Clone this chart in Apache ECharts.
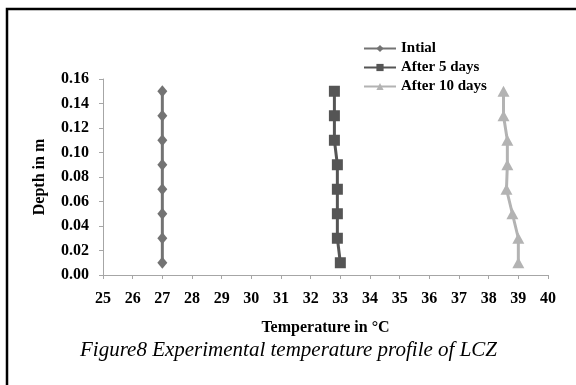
<!DOCTYPE html>
<html>
<head>
<meta charset="utf-8">
<script src="https://cdn.jsdelivr.net/npm/echarts@6/dist/echarts.min.js"></script>
<style>
html,body{margin:0;padding:0;background:#fff;}
#c{width:576px;height:385px;}
</style>
</head>
<body>
<div id="c"></div>
<script>
var depths = [0.01, 0.03, 0.05, 0.07, 0.09, 0.11, 0.13, 0.15];
var initial = [27, 27, 27, 27, 27, 27, 27, 27];
var after5 = [33.0, 32.9, 32.9, 32.9, 32.9, 32.8, 32.8, 32.8];
var after10 = [39.0, 39.0, 38.8, 38.6, 38.63, 38.63, 38.5, 38.5];
var seriesNames = ['Intial', 'After 5 days', 'After 10 days'];
var xTicks = {min: 25, max: 40, interval: 1};
var yTicks = {min: 0, max: 0.16, interval: 0.02};
var xTitle = 'Temperature in \u00B0C';
var yTitle = 'Depth in m';
var caption = 'Figure8 Experimental temperature profile of LCZ';

function pairs(vals){ return vals.map(function(v,i){ return [v, depths[i]]; }); }

var serif = '"Liberation Serif", "Times New Roman", serif';
var axisColor = '#a6a6a6';

var chart = echarts.init(document.getElementById('c'), null, {renderer:'canvas'});
chart.setOption({
  animation: false,
  backgroundColor: '#fff',
  grid: {left: 103, right: 28, top: 79, bottom: 110, containLabel: false},
  legend: {
    orient: 'vertical', left: 358, top: 36, itemGap: 4,
    itemWidth: 32, itemHeight: 9,
    textStyle: {fontFamily: serif, fontWeight: 'bold', fontSize: 15, color: '#000'},
    data: seriesNames
  },
  xAxis: {
    type: 'value', min: xTicks.min, max: xTicks.max, interval: xTicks.interval,
    name: xTitle, nameLocation: 'middle', nameGap: 45,
    nameTextStyle: {fontFamily: serif, fontWeight: 'bold', fontSize: 16, color: '#000'},
    axisLine: {show: true, lineStyle: {color: axisColor, width: 1}},
    axisTick: {show: true, inside: false, length: 4, lineStyle: {color: axisColor}},
    axisLabel: {fontFamily: serif, fontWeight: 'bold', fontSize: 16, color: '#000', margin: 16},
    splitLine: {show: false}
  },
  yAxis: {
    type: 'value', min: yTicks.min, max: yTicks.max, interval: yTicks.interval,
    name: yTitle, nameLocation: 'middle', nameGap: 55, nameRotate: 90,
    nameTextStyle: {fontFamily: serif, fontWeight: 'bold', fontSize: 16, color: '#000'},
    axisLine: {show: true, lineStyle: {color: axisColor, width: 1}},
    axisTick: {show: true, inside: false, length: 4, lineStyle: {color: axisColor}},
    axisLabel: {fontFamily: serif, fontWeight: 'bold', fontSize: 16, color: '#000', margin: 14,
      formatter: function(v){ return v.toFixed(2); }},
    splitLine: {show: false}
  },
  series: [
    {name: seriesNames[0], type: 'line', data: pairs(initial), symbol: 'diamond', symbolSize: [10, 12],
     itemStyle: {color: '#737373'}, lineStyle: {color: '#737373', width: 3}},
    {name: seriesNames[1], type: 'line', data: pairs(after5), symbol: 'rect', symbolSize: 11,
     itemStyle: {color: '#555555'}, lineStyle: {color: '#555555', width: 3}},
    {name: seriesNames[2], type: 'line', data: pairs(after10), symbol: 'triangle', symbolSize: [12, 11],
     itemStyle: {color: '#b3b3b3'}, lineStyle: {color: '#b3b3b3', width: 3}}
  ],
  graphic: [
    {type: 'rect', shape: {x: 7, y: 9, width: 620, height: 420},
     style: {fill: null, stroke: '#000', lineWidth: 2.5}, silent: true},
    {type: 'text', left: 80, top: 340, style: {text: caption, fontFamily: serif,
     fontStyle: 'italic', fontSize: 21, fill: '#000'}}
  ]
});
</script>
</body>
</html>
